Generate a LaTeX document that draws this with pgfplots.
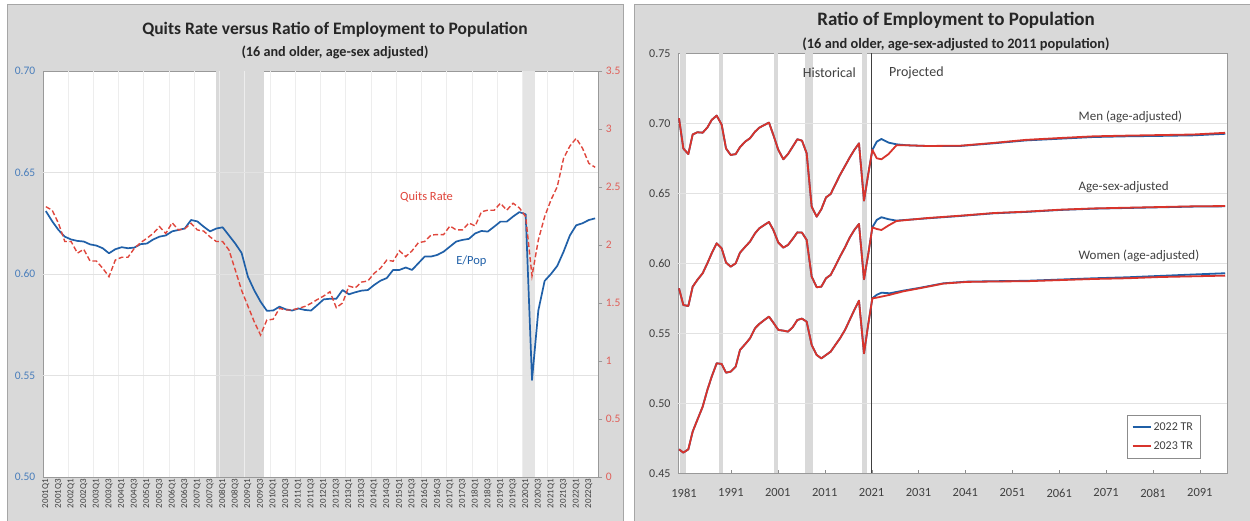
\documentclass[border=0pt]{standalone}
\usepackage{pgfplots}
\pgfplotsset{compat=1.18}
\usepackage{pgfplotstable}
\usepackage{fontspec}
\setmainfont{Carlito}
\definecolor{panel}{HTML}{D9D9D9}
\definecolor{pborder}{HTML}{A6A6A6}
\definecolor{epblue}{HTML}{2060A8}
\definecolor{qred}{HTML}{E0463C}
\definecolor{tred}{HTML}{D8342C}
\definecolor{tblue}{HTML}{1F5FA6}
\definecolor{lblblue}{HTML}{4A7EBB}
\definecolor{lblred}{HTML}{E0605A}
\definecolor{txt}{HTML}{404040}
\definecolor{gridh}{HTML}{E2E2E2}
\definecolor{gridv}{HTML}{EDEDED}
\definecolor{shadeA}{HTML}{D9D9D9}
\definecolor{shadeB}{HTML}{E4E4E4}

\pgfplotstableread{
i epop quits
0 0.6310 2.330
1 0.6260 2.300
2 0.6217 2.187
3 0.6184 2.030
4 0.6170 2.030
5 0.6163 1.930
6 0.6160 1.963
7 0.6146 1.862
8 0.6140 1.862
9 0.6127 1.800
10 0.6102 1.727
11 0.6122 1.870
12 0.6132 1.894
13 0.6127 1.894
14 0.6130 1.970
15 0.6147 2.020
16 0.6150 2.058
17 0.6170 2.100
18 0.6184 2.158
19 0.6190 2.100
20 0.6210 2.192
21 0.6217 2.130
22 0.6224 2.140
23 0.6266 2.187
24 0.6259 2.130
25 0.6233 2.120
26 0.6210 2.070
27 0.6224 2.030
28 0.6230 2.030
29 0.6190 1.957
30 0.6150 1.785
31 0.6104 1.610
32 0.5987 1.474
33 0.5920 1.339
34 0.5864 1.224
35 0.5819 1.353
36 0.5820 1.360
37 0.5839 1.454
38 0.5826 1.440
39 0.5820 1.440
40 0.5830 1.454
41 0.5823 1.470
42 0.5820 1.497
43 0.5847 1.530
44 0.5875 1.560
45 0.5878 1.597
46 0.5878 1.460
47 0.5921 1.500
48 0.5900 1.646
49 0.5910 1.630
50 0.5918 1.680
51 0.5921 1.690
52 0.5946 1.756
53 0.5967 1.800
54 0.5980 1.870
55 0.6020 1.860
56 0.6020 1.950
57 0.6032 1.900
58 0.6020 1.950
59 0.6053 2.020
60 0.6086 2.030
61 0.6086 2.086
62 0.6094 2.090
63 0.6110 2.090
64 0.6135 2.164
65 0.6160 2.130
66 0.6168 2.130
67 0.6173 2.190
68 0.6200 2.164
69 0.6212 2.287
70 0.6209 2.300
71 0.6233 2.300
72 0.6258 2.360
73 0.6258 2.300
74 0.6283 2.360
75 0.6305 2.320
76 0.6294 2.244
77 0.5478 1.733
78 0.5820 2.043
79 0.5966 2.244
80 0.6000 2.388
81 0.6040 2.503
82 0.6110 2.747
83 0.6190 2.853
84 0.6240 2.920
85 0.6250 2.834
86 0.6266 2.704
87 0.6274 2.670
}\qtab

% historical part (identical in both Trustees Reports) followed by each report's projection
\pgfplotstableread{
yr men
1979.93 0.7036
1980.86 0.6820
1981.92 0.6780
1982.85 0.6920
1983.84 0.6936
1984.98 0.6933
1985.98 0.6970
1986.90 0.7024
1987.97 0.7055
1989.03 0.6990
1989.96 0.6820
1990.95 0.6774
1992.02 0.6780
1992.94 0.6830
1994.08 0.6870
1995.07 0.6893
1996.14 0.6940
1997.06 0.6969
1998.13 0.6988
1999.12 0.7005
2000.05 0.6917
2001.11 0.6810
2002.18 0.6743
2003.17 0.6780
2004.17 0.6833
2005.16 0.6886
2006.16 0.6876
2007.15 0.6786
2008.22 0.6405
2009.29 0.6333
2010.28 0.6386
2011.28 0.6471
2012.27 0.6495
2013.27 0.6564
2014.26 0.6631
2015.33 0.6695
2016.32 0.6755
2017.32 0.6810
2018.31 0.6857
2019.38 0.6448
2020.31 0.6643
2021.16 0.6810
2022.10 0.6869
2023.10 0.6888
2024.60 0.6862
2026.30 0.6850
2028.50 0.6843
2032.80 0.6838
2039.90 0.6838
2047.00 0.6857
2054.00 0.6878
2061.20 0.6890
2068.30 0.6902
2075.40 0.6907
2082.50 0.6910
2089.60 0.6914
2096.40 0.6925
}\menA
\pgfplotstableread{
yr men
1979.93 0.7036
1980.86 0.6820
1981.92 0.6780
1982.85 0.6920
1983.84 0.6936
1984.98 0.6933
1985.98 0.6970
1986.90 0.7024
1987.97 0.7055
1989.03 0.6990
1989.96 0.6820
1990.95 0.6774
1992.02 0.6780
1992.94 0.6830
1994.08 0.6870
1995.07 0.6893
1996.14 0.6940
1997.06 0.6969
1998.13 0.6988
1999.12 0.7005
2000.05 0.6917
2001.11 0.6810
2002.18 0.6743
2003.17 0.6780
2004.17 0.6833
2005.16 0.6886
2006.16 0.6876
2007.15 0.6786
2008.22 0.6405
2009.29 0.6333
2010.28 0.6386
2011.28 0.6471
2012.27 0.6495
2013.27 0.6564
2014.26 0.6631
2015.33 0.6695
2016.32 0.6755
2017.32 0.6810
2018.31 0.6857
2019.38 0.6448
2020.31 0.6643
2021.16 0.6810
2022.10 0.6750
2023.10 0.6743
2024.60 0.6780
2026.30 0.6843
2028.50 0.6843
2032.80 0.6838
2039.90 0.6840
2047.00 0.6860
2054.00 0.6882
2061.20 0.6895
2068.30 0.6907
2075.40 0.6912
2082.50 0.6916
2089.60 0.6920
2096.40 0.6932
}\menB
\pgfplotstableread{
yr all
1979.93 0.5821
1980.86 0.5702
1981.92 0.5695
1982.85 0.5833
1983.84 0.5881
1984.98 0.5929
1985.98 0.6000
1986.90 0.6071
1987.97 0.6143
1989.03 0.6107
1989.96 0.6005
1990.95 0.5976
1992.02 0.6000
1992.94 0.6076
1994.08 0.6119
1995.07 0.6155
1996.14 0.6214
1997.06 0.6250
1998.13 0.6274
1999.12 0.6295
2000.05 0.6238
2001.11 0.6148
2002.18 0.6112
2003.17 0.6131
2004.17 0.6174
2005.16 0.6221
2006.16 0.6219
2007.15 0.6167
2008.22 0.5905
2009.29 0.5829
2010.28 0.5833
2011.28 0.5893
2012.27 0.5917
2013.27 0.5981
2014.26 0.6048
2015.33 0.6114
2016.32 0.6183
2017.32 0.6238
2018.31 0.6281
2019.38 0.5886
2020.31 0.6071
2021.16 0.6257
2022.10 0.6310
2023.10 0.6329
2024.60 0.6315
2026.30 0.6305
2032.80 0.6321
2039.90 0.6338
2047.00 0.6357
2054.00 0.6367
2061.20 0.6381
2068.30 0.6390
2075.40 0.6395
2082.50 0.6400
2089.60 0.6405
2096.40 0.6407
}\allA
\pgfplotstableread{
yr all
1979.93 0.5821
1980.86 0.5702
1981.92 0.5695
1982.85 0.5833
1983.84 0.5881
1984.98 0.5929
1985.98 0.6000
1986.90 0.6071
1987.97 0.6143
1989.03 0.6107
1989.96 0.6005
1990.95 0.5976
1992.02 0.6000
1992.94 0.6076
1994.08 0.6119
1995.07 0.6155
1996.14 0.6214
1997.06 0.6250
1998.13 0.6274
1999.12 0.6295
2000.05 0.6238
2001.11 0.6148
2002.18 0.6112
2003.17 0.6131
2004.17 0.6174
2005.16 0.6221
2006.16 0.6219
2007.15 0.6167
2008.22 0.5905
2009.29 0.5829
2010.28 0.5833
2011.28 0.5893
2012.27 0.5917
2013.27 0.5981
2014.26 0.6048
2015.33 0.6114
2016.32 0.6183
2017.32 0.6238
2018.31 0.6281
2019.38 0.5886
2020.31 0.6071
2021.16 0.6257
2022.10 0.6245
2023.10 0.6238
2024.60 0.6270
2026.30 0.6302
2032.80 0.6323
2039.90 0.6340
2047.00 0.6359
2054.00 0.6369
2061.20 0.6383
2068.30 0.6392
2075.40 0.6397
2082.50 0.6402
2089.60 0.6407
2096.40 0.6409
}\allB
\pgfplotstableread{
yr wom
1979.93 0.4671
1980.86 0.4648
1981.92 0.4671
1982.85 0.4798
1983.84 0.4881
1984.98 0.4976
1985.98 0.5095
1986.90 0.5190
1987.97 0.5286
1989.03 0.5281
1989.96 0.5219
1990.95 0.5226
1992.02 0.5262
1992.94 0.5381
1994.08 0.5424
1995.07 0.5464
1996.14 0.5536
1997.06 0.5567
1998.13 0.5595
1999.12 0.5619
2000.05 0.5576
2001.11 0.5524
2002.18 0.5519
2003.17 0.5512
2004.17 0.5543
2005.16 0.5595
2006.16 0.5605
2007.15 0.5583
2008.22 0.5417
2009.29 0.5345
2010.28 0.5321
2011.28 0.5345
2012.27 0.5369
2013.27 0.5417
2014.26 0.5464
2015.33 0.5524
2016.32 0.5595
2017.32 0.5667
2018.31 0.5733
2019.38 0.5357
2020.31 0.5571
2021.16 0.5750
2022.10 0.5775
2023.10 0.5790
2024.90 0.5786
2027.80 0.5805
2031.30 0.5825
2036.30 0.5857
2041.30 0.5869
2047.00 0.5872
2054.00 0.5875
2061.20 0.5884
2068.30 0.5893
2075.40 0.5900
2082.50 0.5910
2089.60 0.5920
2096.40 0.5929
}\womA
\pgfplotstableread{
yr wom
1979.93 0.4671
1980.86 0.4648
1981.92 0.4671
1982.85 0.4798
1983.84 0.4881
1984.98 0.4976
1985.98 0.5095
1986.90 0.5190
1987.97 0.5286
1989.03 0.5281
1989.96 0.5219
1990.95 0.5226
1992.02 0.5262
1992.94 0.5381
1994.08 0.5424
1995.07 0.5464
1996.14 0.5536
1997.06 0.5567
1998.13 0.5595
1999.12 0.5619
2000.05 0.5576
2001.11 0.5524
2002.18 0.5519
2003.17 0.5512
2004.17 0.5543
2005.16 0.5595
2006.16 0.5605
2007.15 0.5583
2008.22 0.5417
2009.29 0.5345
2010.28 0.5321
2011.28 0.5345
2012.27 0.5369
2013.27 0.5417
2014.26 0.5464
2015.33 0.5524
2016.32 0.5595
2017.32 0.5667
2018.31 0.5733
2019.38 0.5357
2020.31 0.5571
2021.16 0.5750
2022.10 0.5755
2023.10 0.5762
2024.90 0.5775
2027.80 0.5800
2031.30 0.5822
2036.30 0.5855
2041.30 0.5867
2047.00 0.5870
2054.00 0.5872
2061.20 0.5880
2068.30 0.5888
2075.40 0.5893
2082.50 0.5902
2089.60 0.5907
2096.40 0.5912
}\womB

\begin{document}
\begin{tikzpicture}[x=1pt,y=1pt]
\useasboundingbox (0pt,0pt) rectangle (1250pt,520pt);
\fill[white] (0pt,0pt) rectangle (1250pt,520pt);
\filldraw[fill=panel,draw=pborder,line width=0.8pt] (7pt,-5pt) rectangle (623pt,516pt);
\filldraw[fill=panel,draw=pborder,line width=0.8pt] (634pt,-5pt) rectangle (1260pt,516pt);

\node[font=\bfseries\fontsize{17.5}{20}\selectfont,text=black!85] at (335pt,490pt) {Quits Rate versus Ratio of Employment to Population};
\node[font=\bfseries\fontsize{14.2}{16}\selectfont,text=black!85] at (335pt,468pt) {(16 and older, age-sex adjusted)};
\node[font=\bfseries\fontsize{19}{22}\selectfont,text=black!85] at (956pt,500pt) {Ratio of Employment to Population};
\node[font=\bfseries\fontsize{14.4}{16}\selectfont,text=black!85] at (956pt,476pt) {(16 and older, age-sex-adjusted to 2011 population)};

% ---------------- left chart: E/Pop (left axis)
\begin{axis}[at={(42.7pt,43pt)}, anchor=south west, scale only axis,
  width=555.6pt, height=406pt,
  xmin=-0.5, xmax=87.5, ymin=0.5, ymax=0.7,
  axis background/.style={fill=white},
  axis line style={draw=black!40},
  ytick={0.5,0.55,0.6,0.65,0.7},
  ytick pos=left, ytick style={draw=none},
  yticklabel style={/pgf/number format/.cd,fixed,fixed zerofill,precision=2,assume math mode=true,/tikz/.cd,text=lblblue,font=\fontsize{11.5}{12}\selectfont,xshift=-4pt},
  xtick={0,2,...,86}, xtick style={draw=none},
  xticklabels={2001Q1,2001Q3,2002Q1,2002Q3,2003Q1,2003Q3,2004Q1,2004Q3,2005Q1,2005Q3,2006Q1,2006Q3,2007Q1,2007Q3,2008Q1,2008Q3,2009Q1,2009Q3,2010Q1,2010Q3,2011Q1,2011Q3,2012Q1,2012Q3,2013Q1,2013Q3,2014Q1,2014Q3,2015Q1,2015Q3,2016Q1,2016Q3,2017Q1,2017Q3,2018Q1,2018Q3,2019Q1,2019Q3,2020Q1,2020Q3,2021Q1,2021Q3,2022Q1,2022Q3},
  xticklabel style={rotate=90, anchor=east, font=\fontsize{9}{9}\selectfont, text=txt, inner sep=2pt},
  clip=true]
\fill[shadeA] (axis cs:27,0.5) rectangle (axis cs:34.5,0.7);
\fill[shadeB] (axis cs:75.5,0.5) rectangle (axis cs:77.4,0.7);
\pgfplotsinvokeforeach{3.5,7.5,11.5,15.5,19.5,23.5,27.5,31.5,35.5,39.5,43.5,47.5,51.5,55.5,59.5,63.5,67.5,71.5,75.5,79.5,83.5}{
  \draw[gridv,line width=0.7pt] (axis cs:#1,0.5) -- (axis cs:#1,0.7);
}
\pgfplotsinvokeforeach{0.55,0.6,0.65}{
  \draw[gridh,line width=0.7pt] (axis cs:-0.5,#1) -- (axis cs:87.5,#1);
}
\addplot[epblue, line width=1.7pt, line join=round] table[x=i,y=epop]{\qtab};
\node[text=qred, font=\fontsize{12.5}{14}\selectfont] at (axis cs:60.3,0.638) {Quits Rate};
\node[text=epblue, font=\fontsize{12.5}{14}\selectfont] at (axis cs:67.4,0.6064) {E/Pop};
\end{axis}

% ---------------- left chart: quits rate (right axis)
\begin{axis}[at={(42.7pt,43pt)}, anchor=south west, scale only axis,
  width=555.6pt, height=406pt,
  xmin=-0.5, xmax=87.5, ymin=0, ymax=3.5,
  axis x line=none, axis y line*=right,
  y axis line style={draw=black!40},
  ytick={0,0.5,1,1.5,2,2.5,3,3.5},
  ytick style={draw=black!40}, tick align=outside, major tick length=4pt,
  yticklabel style={/pgf/number format/assume math mode=true,text=lblred,font=\fontsize{11.5}{12}\selectfont},
  clip=true]
\addplot[qred, line width=1.4pt, dash pattern=on 5pt off 2.6pt] table[x=i,y=quits]{\qtab};
\end{axis}

% ---------------- right chart
\begin{axis}[at={(678pt,46.7pt)}, anchor=south west, scale only axis,
  width=549pt, height=420pt,
  xmin=1979.72, xmax=2096.78, ymin=0.45, ymax=0.75,
  axis background/.style={fill=white},
  axis line style={draw=black!40},
  ytick={0.45,0.5,0.55,0.6,0.65,0.7,0.75}, ytick style={draw=none}, ytick pos=left,
  yticklabel style={/pgf/number format/.cd,fixed,fixed zerofill,precision=2,assume math mode=true,/tikz/.cd,text=txt,font=\fontsize{12}{13}\selectfont,xshift=-4pt},
  xtick={1981,1991,2001,2011,2021,2031,2041,2051,2061,2071,2081,2091},
  xtick pos=left, xtick style={draw=black!45}, major tick length=3pt,
  xticklabel style={/pgf/number format/.cd,1000 sep={},assume math mode=true,/tikz/.cd,text=txt,font=\fontsize{12.5}{13}\selectfont,yshift=-12pt},
  legend style={at={(0.951,0.036)}, anchor=south east, draw=black!45, fill=white,
    font=\fontsize{12}{14}\selectfont, text=txt, row sep=6pt, inner xsep=5pt, inner ysep=5pt,
    cells={anchor=west}},
  legend image code/.code={\draw[#1] (0pt,0pt) -- (18pt,0pt);},
  clip=true]
\fill[shadeA] (axis cs:1980.2,0.45) rectangle (axis cs:1981.4,0.75);
\fill[shadeA] (axis cs:1988.5,0.45) rectangle (axis cs:1989.3,0.75);
\fill[shadeA] (axis cs:2000.2,0.45) rectangle (axis cs:2001.0,0.75);
\fill[shadeA] (axis cs:2006.8,0.45) rectangle (axis cs:2008.5,0.75);
\fill[shadeA] (axis cs:2019.0,0.45) rectangle (axis cs:2020.0,0.75);
\pgfplotsinvokeforeach{0.5,0.55,0.6,0.65,0.7}{
  \draw[gridh,line width=0.9pt] (axis cs:1979.72,#1) -- (axis cs:2096.78,#1);
}
\draw[black!75, line width=0.6pt] (axis cs:2021.0,0.45) -- (axis cs:2021.0,0.75);
\addplot[tblue, line width=1.8pt, line join=round] table[x=yr,y=men]{\menA};
\addlegendentry{2022 TR}
\addplot[tblue, line width=1.8pt, line join=round, forget plot] table[x=yr,y=all]{\allA};
\addplot[tblue, line width=1.8pt, line join=round, forget plot] table[x=yr,y=wom]{\womA};
\addplot[tred, line width=1.8pt, line join=round] table[x=yr,y=men]{\menB};
\addlegendentry{2023 TR}
\addplot[tred, line width=1.8pt, line join=round, forget plot] table[x=yr,y=all]{\allB};
\addplot[tred, line width=1.8pt, line join=round, forget plot] table[x=yr,y=wom]{\womB};
\node[anchor=east, text=txt, font=\fontsize{14}{15}\selectfont] at (axis cs:2018.4,0.736) {Historical};
\node[anchor=west, text=txt, font=\fontsize{14}{15}\selectfont] at (axis cs:2024.0,0.736) {Projected};
\node[anchor=west, text=txt, font=\fontsize{13}{14}\selectfont] at (axis cs:2064.4,0.7045) {Men (age-adjusted)};
\node[anchor=west, text=txt, font=\fontsize{13}{14}\selectfont] at (axis cs:2064.4,0.6547) {Age-sex-adjusted};
\node[anchor=west, text=txt, font=\fontsize{13}{14}\selectfont] at (axis cs:2064.4,0.6052) {Women (age-adjusted)};
\end{axis}
\end{tikzpicture}
\end{document}
